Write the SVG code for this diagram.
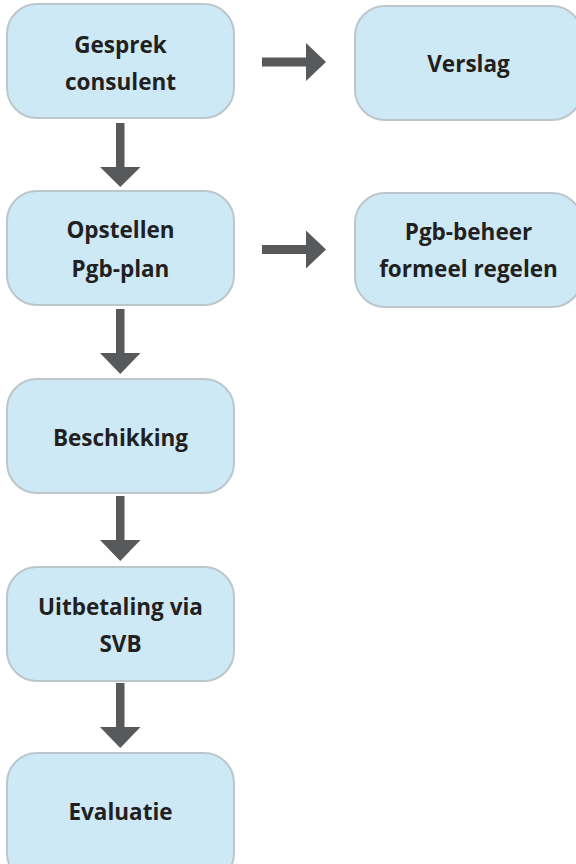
<svg xmlns="http://www.w3.org/2000/svg" width="576" height="864" viewBox="0 0 576 864">
<style>
.box{fill:#cde9f6;stroke:#bcc6cb;stroke-width:2}
.t{font-family:"Open Sans","Noto Sans",sans-serif;font-weight:bold;font-size:22.5px;fill:#231f20;text-anchor:middle}
.arr{fill:#58595b}
</style>
<rect width="576" height="864" fill="#ffffff"/>
<g id="n1"><rect class="box" x="7" y="4" width="227" height="114" rx="30"/><text class="t" x="120.5" y="53">Gesprek</text><text class="t" x="120.5" y="90">consulent</text></g>
<g id="n2"><rect class="box" x="355" y="6" width="227" height="114" rx="30"/><text class="t" x="468.5" y="72">Verslag</text></g>
<g id="n3"><rect class="box" x="7" y="191" width="227" height="114" rx="30"/><text class="t" x="120.5" y="238">Opstellen</text><text class="t" x="120.5" y="277">Pgb-plan</text></g>
<g id="n4"><rect class="box" x="355" y="193" width="227" height="114" rx="30"/><text class="t" x="468.5" y="240">Pgb-beheer</text><text class="t" x="468.5" y="277">formeel regelen</text></g>
<g id="n5"><rect class="box" x="7" y="379" width="227" height="114" rx="30"/><text class="t" x="120.5" y="446">Beschikking</text></g>
<g id="n6"><rect class="box" x="7" y="567" width="227" height="114" rx="30"/><text class="t" x="120.5" y="615">Uitbetaling via</text><text class="t" x="120.5" y="652">SVB</text></g>
<g id="n7"><rect class="box" x="7" y="753" width="227" height="130" rx="30"/><text class="t" x="120.5" y="820">Evaluatie</text></g>
<g id="connectors">
<path class="arr" d="M116,123 h8.5 v44 h16 l-20.25,20 l-20.25,-20 h16 z"/>
<path class="arr" d="M116,309 h8.5 v44 h16 l-20.25,21 l-20.25,-21 h16 z"/>
<path class="arr" d="M116,496 h8.5 v44 h16 l-20.25,21 l-20.25,-21 h16 z"/>
<path class="arr" d="M116,683 h8.5 v44 h16 l-20.25,21 l-20.25,-21 h16 z"/>
<path class="arr" d="M262,57.5 h44 v-14.5 l20,19 l-20,19 v-14.5 h-44 z"/>
<path class="arr" d="M262,245 h44 v-14.5 l20,19 l-20,19 v-14.5 h-44 z"/>
</g>
</svg>
